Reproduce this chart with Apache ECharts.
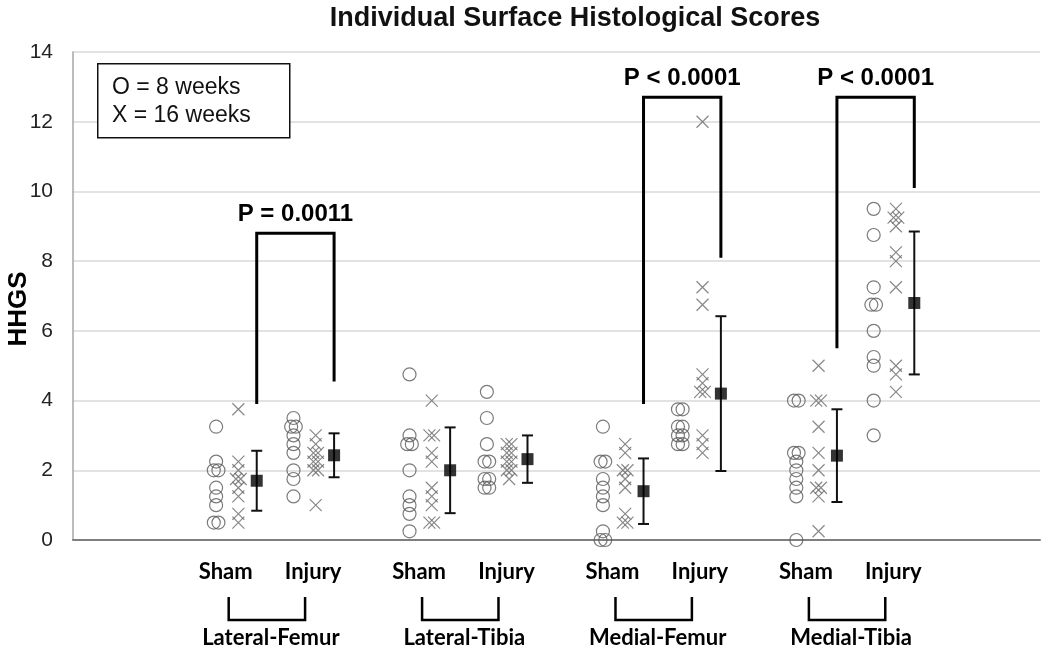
<!DOCTYPE html>
<html><head><meta charset="utf-8">
<script src="https://cdn.jsdelivr.net/npm/echarts@6/dist/echarts.min.js"></script>
<style>html,body{margin:0;padding:0;background:#fff}#c{width:1050px;height:656px}</style>
</head><body><div id="c"></div>
<script>
// ---- data ----
const regions = ['Lateral-Femur', 'Lateral-Tibia', 'Medial-Femur', 'Medial-Tibia'];
const groupNames = ['Sham', 'Injury'];
const titleText = 'Individual Surface Histological Scores';
const yName = 'HHGS';
const legendLines = ['O = 8 weeks', 'X = 16 weeks'];
const yMin = 0, yMax = 14, yStep = 2;

// order: LF Sham, LF Injury, LT Sham, LT Injury, MF Sham, MF Injury, MT Sham, MT Injury
const weeks8 = [
  [3.25, 2.25, 2.0, 2.0, 1.5, 1.25, 1.0, 0.5, 0.5],
  [3.5, 3.25, 3.25, 3.0, 2.75, 2.5, 2.0, 1.75, 1.25],
  [4.75, 3.0, 2.75, 2.75, 2.0, 1.25, 1.0, 0.75, 0.25],
  [4.25, 3.5, 2.75, 2.25, 2.25, 1.75, 1.75, 1.5, 1.5],
  [3.25, 2.25, 2.25, 1.75, 1.5, 1.25, 1.0, 0.25, 0, 0],
  [3.75, 3.75, 3.25, 3.25, 3.0, 3.0, 2.75, 2.75],
  [4.0, 4.0, 2.5, 2.5, 2.25, 2.0, 1.75, 1.5, 1.25, 0],
  [9.5, 8.75, 7.25, 6.75, 6.75, 6.0, 5.25, 5.0, 4.0, 3.0]
];
const weeks16 = [
  [3.75, 2.25, 2.0, 1.75, 1.75, 1.5, 1.25, 0.75, 0.5],
  [3.0, 2.75, 2.5, 2.5, 2.25, 2.25, 2.0, 2.0, 1.0],
  [4.0, 3.0, 3.0, 2.5, 2.25, 1.5, 1.25, 1.0, 0.5, 0.5],
  [2.75, 2.75, 2.5, 2.5, 2.25, 2.25, 2.0, 2.0, 1.75],
  [2.75, 2.5, 2.0, 2.0, 1.75, 1.5, 0.75, 0.5, 0.5],
  [12.0, 7.25, 6.75, 4.75, 4.5, 4.25, 4.25, 3.0, 2.75, 2.5],
  [5.0, 4.0, 4.0, 3.25, 2.5, 2.0, 1.5, 1.5, 1.25, 0.25],
  [9.5, 9.25, 9.25, 9.0, 8.25, 8.0, 7.25, 5.0, 4.75, 4.25]
];
const groupMeans = [1.7, 2.43, 2.0, 2.32, 1.4, 4.2, 2.42, 6.8];
const groupSDs = [0.86, 0.63, 1.23, 0.68, 0.94, 2.22, 1.33, 2.05];

const sigRegion = [0, 2, 3];
const sigTop = [8.8, 12.7, 12.7];
const sigLeftEnd = [3.9, 3.9, 5.5];
const sigRightEnd = [4.55, 8.1, 10.1];
const sigText = ['P = 0.0011', 'P < 0.0001', 'P < 0.0001'];

// ---- layout helpers (x in axis units) ----
function meanX(g) { const r = Math.floor(g / 2); return 9.5 + 10 * r + 4 * (g % 2); }
function spread(vals, baseX) {
  const counts = {}, seen = {};
  vals.forEach(v => counts[v] = (counts[v] || 0) + 1);
  return vals.map(v => {
    const k = seen[v] || 0; seen[v] = k + 1;
    const off = (k - (counts[v] - 1) / 2) * 0.24;
    return [baseX + off, v];
  });
}
const circlePts = [], crossPts = [], meanPts = [], errPts = [];
for (let g = 0; g < 8; g++) {
  spread(weeks8[g], meanX(g) - 2.1).forEach(p => circlePts.push(p));
  spread(weeks16[g], meanX(g) - 0.95).forEach(p => crossPts.push(p));
  meanPts.push([meanX(g), groupMeans[g]]);
  errPts.push([meanX(g), groupMeans[g], groupSDs[g]]);
}

const chart = echarts.init(document.getElementById('c'), null, { renderer: 'canvas' });
const labelFont = 'Lato, "Open Sans", sans-serif';
const arial = '"Liberation Sans", Arial, sans-serif';

chart.setOption({
  animation: false,
  backgroundColor: '#fff',
  grid: { left: 73, right: 10, top: 52, bottom: 116 },
  xAxis: {
    type: 'value', min: 0, max: 50,
    axisLine: { show: true, lineStyle: { color: '#7f7f7f', width: 2 } },
    axisTick: { show: false }, axisLabel: { show: false }, splitLine: { show: false }
  },
  yAxis: {
    type: 'value', min: yMin, max: yMax, interval: yStep,
    axisLine: { show: true, lineStyle: { color: '#a6a6a6', width: 1.5 } },
    axisTick: { show: false },
    axisLabel: { margin: 20, fontSize: 21, color: '#222', fontFamily: arial },
    splitLine: { lineStyle: { color: '#d9d9d9', width: 1.5 } }
  },
  graphic: [
    { type: 'text', x: 575, y: 19, style: { text: titleText, align: 'center', verticalAlign: 'middle', fontSize: 27, fontWeight: 'bold', fontFamily: arial, fill: '#111' } },
    { type: 'text', x: 19, y: 309, rotation: Math.PI / 2, style: { text: yName, align: 'center', verticalAlign: 'middle', fontSize: 26, fontWeight: 'bold', fontFamily: arial, fill: '#000' } },
    { type: 'rect', left: 97, top: 63, z: 10, shape: { width: 192, height: 74 }, style: { fill: '#fff', stroke: '#111', lineWidth: 1.5 } },
    { type: 'text', x: 112, y: 88, z: 11, style: { text: legendLines[0], align: 'left', verticalAlign: 'middle', fontSize: 23, fontFamily: arial, fill: '#111' } },
    { type: 'text', x: 112, y: 116, z: 11, style: { text: legendLines[1], align: 'left', verticalAlign: 'middle', fontSize: 23, fontFamily: arial, fill: '#111' } }
  ],
  series: [
    {
      name: '8 weeks', type: 'scatter', data: circlePts, symbol: 'circle', symbolSize: 13,
      itemStyle: { color: 'rgba(0,0,0,0)', borderColor: '#5a5a5a', borderWidth: 1.2 }, z: 3
    },
    {
      name: '16 weeks', type: 'scatter', data: crossPts, symbol: 'path://M0,0L12,12M12,0L0,12', symbolSize: 12,
      itemStyle: { color: 'rgba(0,0,0,0)', borderColor: '#6a6a6a', borderWidth: 1.2 }, z: 3
    },
    {
      name: 'SD', type: 'custom', data: errPts, z: 4, silent: true,
      renderItem: function (params, api) {
        const x = api.value(0), m = api.value(1), s = api.value(2);
        const top = api.coord([x, m + s]), bot = api.coord([x, m - s]);
        const st = { stroke: '#111', lineWidth: 2 };
        return { type: 'group', children: [
          { type: 'line', shape: { x1: top[0], y1: top[1], x2: bot[0], y2: bot[1] }, style: st },
          { type: 'line', shape: { x1: top[0] - 5.5, y1: top[1], x2: top[0] + 5.5, y2: top[1] }, style: st },
          { type: 'line', shape: { x1: bot[0] - 5.5, y1: bot[1], x2: bot[0] + 5.5, y2: bot[1] }, style: st }
        ] };
      }
    },
    {
      name: 'Mean', type: 'scatter', data: meanPts, symbol: 'rect', symbolSize: 12,
      itemStyle: { color: '#000' }, z: 5
    },
    {
      name: 'Significance', type: 'custom', z: 6, silent: true, clip: false,
      data: sigRegion.map((r, i) => [r, sigTop[i], sigLeftEnd[i], sigRightEnd[i]]),
      renderItem: function (params, api) {
        const r = api.value(0), top = api.value(1);
        const xl = meanX(2 * r), xr = meanX(2 * r + 1);
        const p1 = api.coord([xl, api.value(2)]), p2 = api.coord([xl, top]);
        const p3 = api.coord([xr, top]), p4 = api.coord([xr, api.value(3)]);
        return { type: 'group', children: [
          { type: 'polyline', shape: { points: [p1, p2, p3, p4] }, style: { stroke: '#000', lineWidth: 3, fill: null } },
          { type: 'text', x: (p2[0] + p3[0]) / 2, y: p2[1] - 19, style: { text: sigText[params.dataIndex], align: 'center', verticalAlign: 'middle', fontSize: 24, fontWeight: 'bold', fontFamily: arial, fill: '#000' } }
        ] };
      }
    },
    {
      name: 'Regions', type: 'custom', z: 6, silent: true, clip: false,
      data: regions.map((n, i) => [i]),
      renderItem: function (params, api) {
        const r = api.value(0);
        const base = api.coord([0, 0])[1];
        const xl = api.coord([meanX(2 * r) - 1.45, 0])[0];
        const xr = api.coord([meanX(2 * r + 1) - 1.5, 0])[0];
        const ts = (t) => ({ text: t, align: 'center', verticalAlign: 'middle', fontSize: 22, fontWeight: 'bold', fontFamily: labelFont, fill: '#000' });
        return { type: 'group', children: [
          { type: 'text', x: xl - 3, y: base + 32, style: ts(groupNames[0]) },
          { type: 'text', x: xr + 8, y: base + 32, style: ts(groupNames[1]) },
          { type: 'polyline', shape: { points: [[xl, base + 57], [xl, base + 80], [xr, base + 80], [xr, base + 57]] }, style: { stroke: '#000', lineWidth: 2.5, fill: null } },
          { type: 'text', x: (xl + xr) / 2 + 4, y: base + 98, style: ts(regions[r]) }
        ] };
      }
    }
  ]
});
</script></body></html>
